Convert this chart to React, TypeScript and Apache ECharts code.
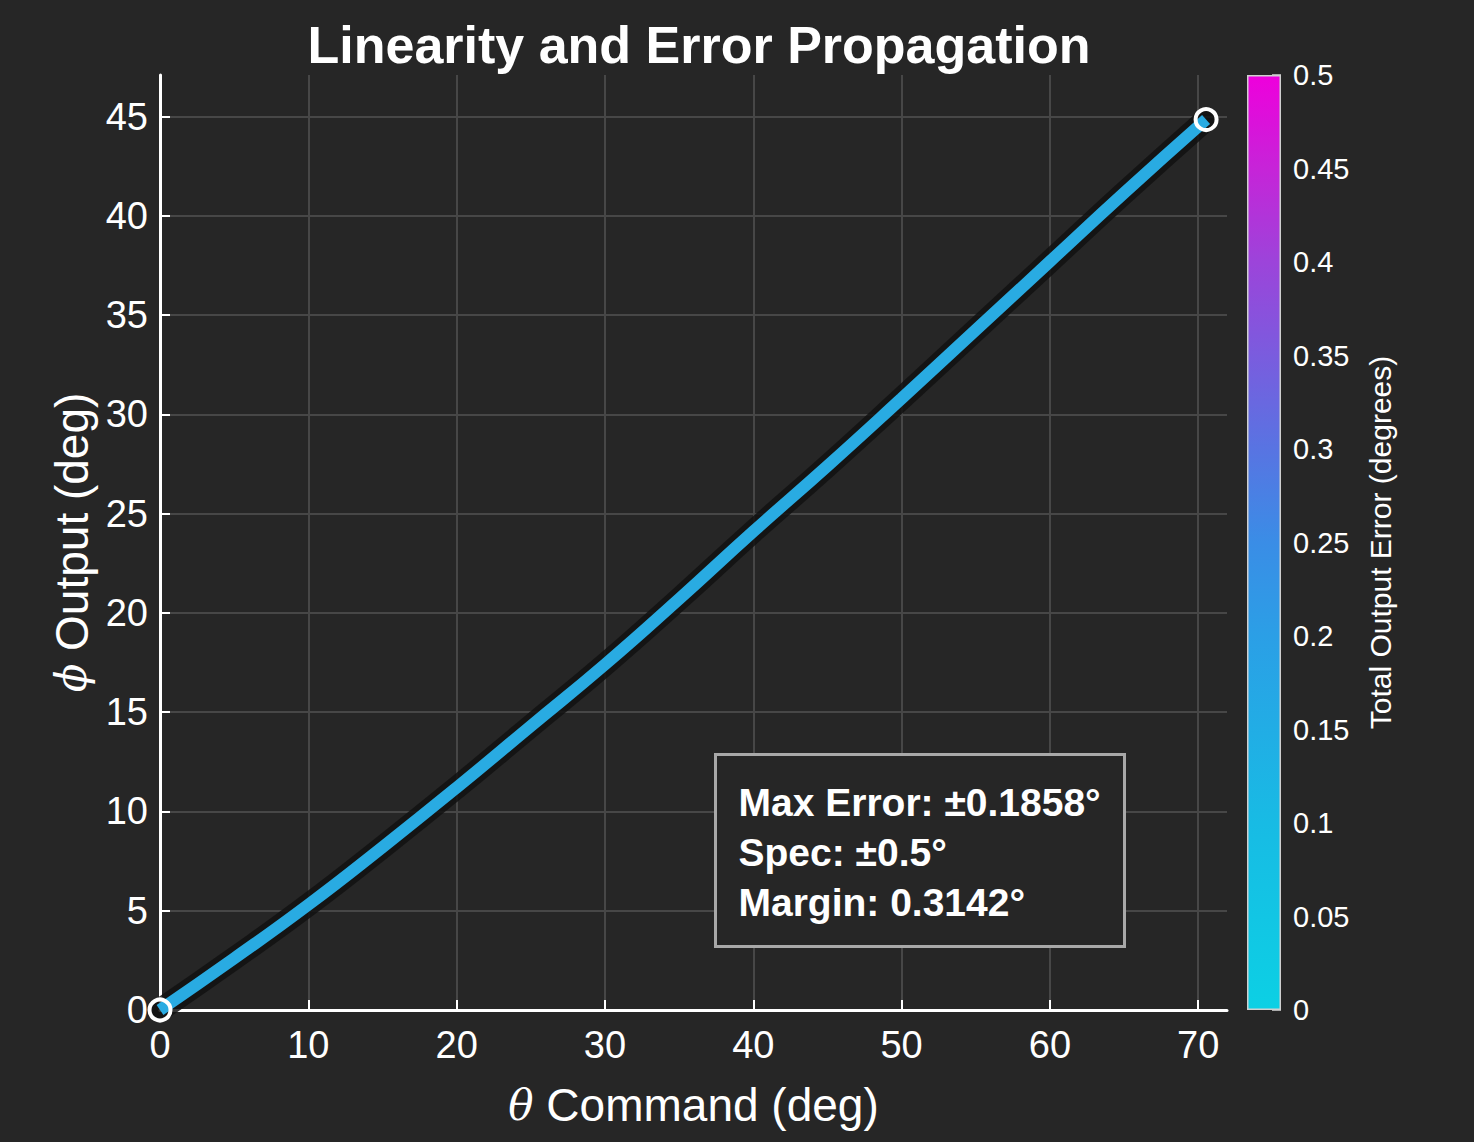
import React, { useEffect, useRef } from "react";
import * as echarts from "echarts";

// ---- data ----
const thetaCmd = [0, 5, 10, 15, 20, 25, 30, 35, 40, 45, 50, 55, 60, 65, 70.53];
const phiOut = [0, 2.6, 5.3, 8.2, 11.2, 14.3, 17.4, 20.7, 24.1, 27.4, 30.8, 34.25, 37.7, 41.15, 44.85];
const maxError = 0.1858;
const specError = 0.5;
const colorbarTicks = [0, 0.05, 0.1, 0.15, 0.2, 0.25, 0.3, 0.35, 0.4, 0.45, 0.5];

const FONT = 'Arial, "Liberation Sans", Helvetica, sans-serif';
const BG = "#262626";
const GRIDC = "#474747";

export default function App() {
  const ref = useRef<HTMLDivElement>(null);
  useEffect(() => {
    document.body.style.margin = "0";
    document.body.style.background = BG;
    const chart = echarts.init(ref.current!, null, { renderer: "svg" });
    const pts = thetaCmd.map((t, i) => [t, phiOut[i]]);
    const ends = [pts[0], pts[pts.length - 1]];
    const margin = specError - maxError;
    const xMax = thetaCmd[thetaCmd.length - 1] * 1.02;
    const yMax = phiOut[phiOut.length - 1] * 1.05;
    const cbMax = colorbarTicks[colorbarTicks.length - 1];

    const nameStyle = {
      color: "#fff",
      fontSize: 46,
      fontFamily: FONT,
      rich: { i: { fontStyle: "italic", fontFamily: "DejaVu Serif, serif", fontSize: 42, color: "#fff" } },
    };

    const option: any = {
      animation: false,
      backgroundColor: BG,
      textStyle: { fontFamily: FONT },
      title: {
        text: "Linearity and Error Propagation",
        left: 694,
        textAlign: "center",
        top: 14,
        textStyle: { color: "#ffffff", fontSize: 52, fontWeight: "bold", fontFamily: FONT },
      },
      grid: [
        { left: 160, right: 247, top: 75, bottom: 132 },
        { left: 1247, width: 34, top: 75, bottom: 132 },
      ],
      xAxis: [
        {
          gridIndex: 0,
          type: "value",
          min: 0,
          max: xMax,
          interval: 10,
          name: "{i|θ} Command (deg)",
          nameLocation: "middle",
          nameGap: 72,
          nameTextStyle: nameStyle,
          axisLine: { show: true, onZero: false, lineStyle: { color: "#ffffff", width: 3 } },
          axisTick: { show: true, inside: true, length: 10, lineStyle: { color: "#ffffff", width: 2 } },
          axisLabel: { show: true, color: "#ffffff", fontSize: 38, margin: 16, showMaxLabel: false, fontFamily: FONT },
          splitLine: { show: true, showMaxLine: false, lineStyle: { color: GRIDC, width: 2 } },
        },
        {
          gridIndex: 1,
          type: "category",
          data: ["cb"],
          show: false,
        },
      ],
      yAxis: [
        {
          gridIndex: 0,
          type: "value",
          min: 0,
          max: yMax,
          interval: 5,
          name: "{i|ϕ} Output (deg)",
          nameLocation: "middle",
          nameGap: 62,
          nameRotate: 90,
          nameTextStyle: nameStyle,
          axisLine: { show: true, onZero: false, lineStyle: { color: "#ffffff", width: 3 } },
          axisTick: { show: true, inside: true, length: 10, lineStyle: { color: "#ffffff", width: 2 } },
          axisLabel: { show: true, color: "#ffffff", fontSize: 38, margin: 12, showMaxLabel: false, fontFamily: FONT },
          splitLine: { show: true, showMaxLine: false, lineStyle: { color: GRIDC, width: 2 } },
        },
        {
          gridIndex: 1,
          type: "value",
          position: "right",
          min: 0,
          max: cbMax,
          interval: 0.05,
          name: "Total Output Error (degrees)",
          nameLocation: "middle",
          nameGap: 84,
          nameRotate: 90,
          nameTextStyle: { color: "#ffffff", fontSize: 30, fontFamily: FONT },
          axisLine: { show: false },
          axisTick: { show: true, inside: true, length: 9, lineStyle: { color: "#d8d8d8", width: 1.5 } },
          axisLabel: {
            color: "#ffffff",
            fontSize: 29,
            margin: 12,
            fontFamily: FONT,
            formatter: (v: number) => String(parseFloat(v.toFixed(2))),
          },
          splitLine: { show: false },
        },
      ],
      series: [
        {
          type: "bar",
          xAxisIndex: 1,
          yAxisIndex: 1,
          data: [cbMax],
          barWidth: "100%",
          silent: true,
          z: 1,
          itemStyle: {
            borderColor: "#cfcfcf",
            borderWidth: 1.5,
            color: {
              type: "linear",
              x: 0,
              y: 1,
              x2: 0,
              y2: 0,
              colorStops: [
                { offset: 0, color: "#0cd0e4" },
                { offset: 0.2, color: "#18bbe4" },
                { offset: 0.4, color: "#2b9fe6" },
                { offset: 0.5, color: "#3a8de6" },
                { offset: 0.6, color: "#5874e2" },
                { offset: 0.7, color: "#7a5cde" },
                { offset: 0.8, color: "#9c44da" },
                { offset: 0.9, color: "#c624d8" },
                { offset: 1, color: "#ee00dc" },
              ],
            },
          },
        },
        {
          type: "line",
          xAxisIndex: 0,
          yAxisIndex: 0,
          data: pts,
          smooth: true,
          showSymbol: false,
          silent: true,
          z: 3,
          lineStyle: { color: "rgba(18,18,18,0.85)", width: 23, cap: "round" },
        },
        {
          type: "line",
          xAxisIndex: 0,
          yAxisIndex: 0,
          data: pts,
          smooth: true,
          showSymbol: false,
          z: 4,
          lineStyle: { color: "#29abe2", width: 12, cap: "butt" },
        },
        {
          type: "scatter",
          xAxisIndex: 0,
          yAxisIndex: 0,
          data: ends,
          symbol: "circle",
          symbolSize: 21,
          z: 5,
          itemStyle: { color: "rgba(0,0,0,0)", borderColor: "#ffffff", borderWidth: 4, opacity: 1 },
        },
      ],
      graphic: [
        {
          type: "group",
          left: 714,
          top: 753,
          z: 100,
          children: [
            {
              type: "rect",
              z: 100,
              shape: { x: 0, y: 0, width: 409, height: 192 },
              style: { fill: BG, stroke: "#a8a8a8", lineWidth: 3 },
            },
            {
              type: "text",
              z: 101,
              x: 23,
              y: 98,
              style: {
                text: `Max Error: ±${maxError.toFixed(4)}°\nSpec: ±${specError}°\nMargin: ${margin.toFixed(4)}°`,
                fill: "#ffffff",
                font: `bold 39px ${FONT}`,
                lineHeight: 50,
                verticalAlign: "middle",
                align: "left",
              },
            },
          ],
        },
      ],
    };
    chart.setOption(option);
    return () => chart.dispose();
  }, []);
  return <div ref={ref} style={{ width: 1474, height: 1142 }} />;
}
